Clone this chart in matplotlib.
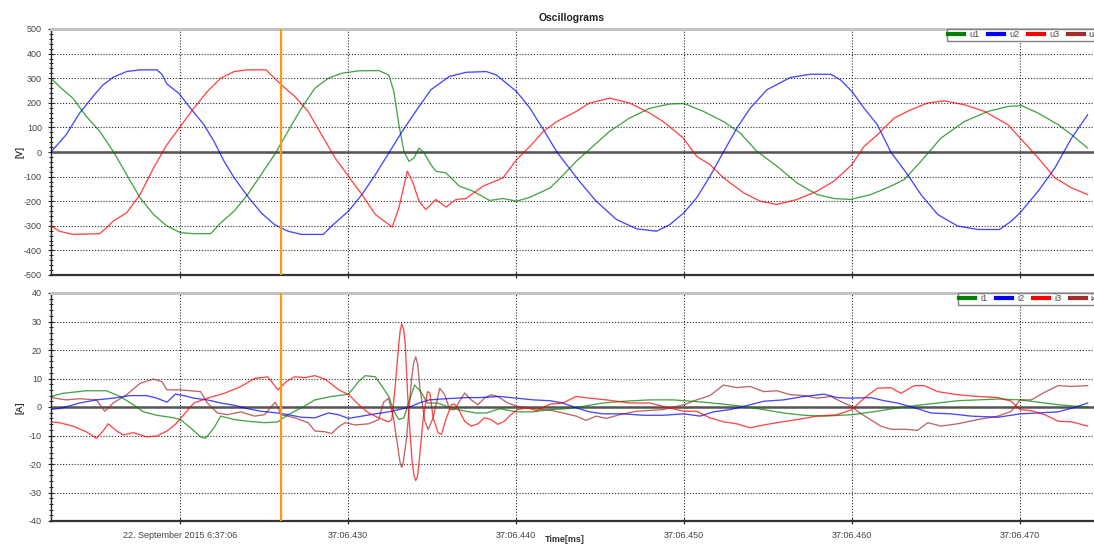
import matplotlib
matplotlib.use("Agg")
import matplotlib.pyplot as plt
from matplotlib.ticker import MultipleLocator
from matplotlib.lines import Line2D

plt.rcParams['font.family'] = ['Liberation Sans', 'DejaVu Sans']
plt.rcParams['axes.unicode_minus'] = False

# ---------------- data (time in ms after 6:37:06.000) ----------------
u1_t = [412.34, 412.84, 413.64, 414.44, 415.24, 416.04, 416.84, 417.64, 418.44, 419.24,
        420.04, 420.84, 421.84, 422.44, 423.24, 424.04, 424.84, 425.64, 426.44, 427.24,
        428.04, 428.84, 429.64, 430.64, 431.84, 432.44, 432.74, 433.04, 433.34, 433.64,
        433.94, 434.24, 434.54, 434.94, 435.24, 435.84, 436.64, 437.44, 438.44, 439.24,
        440.04, 440.84, 442.04, 442.84, 443.59, 444.58, 445.58, 446.77, 447.97, 449.16,
        450.00, 451.16, 452.35, 453.35, 454.34, 455.54, 456.73, 457.93, 458.92, 459.92,
        461.12, 462.31, 463.11, 464.10, 465.30, 466.69, 468.09, 469.28, 470.08, 471.08,
        472.27, 473.07, 474.02]
u1_v = [300, 266, 219, 145, 84, 3, -92, -186, -254, -301,
        -328, -332, -332, -288, -240, -173, -92, -11, 84, 178,
        259, 300, 320, 330, 331, 313, 246, 111, 3, -38,
        -24, 16, -4, -51, -78, -85, -139, -159, -197, -189,
        -200, -184, -146, -92, -38, 23, 84, 138, 178, 195,
        197, 165, 124, 77, 3, -58, -126, -173, -189, -193,
        -173, -139, -112, -38, 57, 124, 165, 185, 189, 158,
        111, 70, 16]

u2_t = [412.34, 413.24, 414.04, 414.84, 415.44, 416.04, 416.84, 417.64, 418.64, 418.94,
        419.24, 419.94, 420.64, 421.44, 422.04, 422.64, 423.24, 424.04, 424.84, 425.64,
        426.44, 427.24, 428.54, 429.04, 430.04, 430.84, 431.64, 432.44, 433.24, 434.04,
        434.94, 436.04, 437.04, 438.24, 438.84, 440.04, 440.84, 441.64, 442.44, 443.78,
        444.78, 445.98, 447.17, 448.37, 449.16, 450.00, 450.76, 451.55, 452.35, 453.15,
        453.94, 454.94, 456.33, 457.53, 458.73, 459.32, 460.00, 460.72, 461.51, 462.31,
        463.31, 464.10, 465.10, 466.29, 467.49, 468.78, 469.48, 470.00, 471.08, 472.07,
        473.07, 474.02]
u2_v = [0, 70, 158, 226, 273, 304, 327, 334, 334, 316,
        276, 239, 178, 111, 43, -38, -105, -180, -247, -295,
        -322, -335, -335, -301, -240, -173, -92, -4, 84, 165,
        253, 307, 324, 327, 313, 246, 178, 91, 0, -119,
        -200, -274, -312, -322, -295, -247, -186, -99, 0, 97,
        178, 253, 303, 316, 316, 293, 246, 178, 111, 0,
        -92, -173, -254, -301, -315, -315, -281, -247, -159, -65,
        57, 151]

u3_t = [412.34, 412.84, 413.64, 415.24, 415.64, 416.04, 416.84, 417.64, 418.44, 419.24,
        420.04, 420.84, 421.64, 422.44, 423.24, 424.04, 425.14, 425.44, 426.04, 426.84,
        427.64, 428.44, 429.24, 430.04, 430.84, 431.64, 432.64, 433.04, 433.54, 433.84,
        434.24, 434.64, 435.24, 435.84, 436.44, 437.04, 438.04, 439.24, 440.04, 440.84,
        441.64, 442.44, 443.59, 444.38, 445.58, 446.77, 447.97, 448.76, 449.96, 450.76,
        451.55, 452.35, 453.55, 454.54, 455.54, 456.73, 457.93, 458.92, 460.00, 460.72,
        461.51, 462.51, 463.51, 464.50, 465.50, 466.69, 467.89, 469.28, 470.00, 471.08,
        472.07, 473.07, 474.02]
u3_v = [-301, -322, -335, -332, -308, -281, -247, -173, -65, 30,
        104, 178, 246, 300, 327, 334, 334, 313, 273, 226,
        165, 70, -24, -99, -173, -254, -305, -227, -78, -119,
        -200, -234, -193, -224, -193, -189, -139, -105, -31, 23,
        84, 124, 165, 199, 219, 199, 158, 124, 57, -18,
        -51, -105, -166, -200, -213, -193, -159, -119, -51, 23,
        70, 138, 172, 199, 208, 192, 165, 111, 57, -24,
        -105, -146, -173]

u4_t = [412.34, 474.02]
u4_v = [0, 0]

i1_t = [412.34, 413.04, 414.44, 415.64, 416.44, 417.24, 417.84, 418.64, 419.64, 420.04,
        420.64, 421.24, 421.54, 422.04, 422.44, 423.24, 424.04, 425.04, 425.84, 426.44,
        427.24, 428.04, 429.04, 430.04, 430.64, 431.04, 431.64, 432.04, 432.44, 432.74,
        433.04, 433.34, 433.64, 433.98, 434.34, 434.74, 435.34, 436.04, 436.84, 437.64,
        438.24, 439.04, 440.04, 441.04, 442.04, 443.00, 443.98, 445.18, 446.37, 447.97,
        449.36, 451.16, 452.35, 453.55, 454.74, 455.94, 457.13, 458.33, 460.00, 461.71,
        462.71, 463.90, 465.10, 466.29, 467.49, 468.69, 470.00, 471.08, 472.27, 474.02]
i1_v = [3.7, 4.8, 5.7, 5.7, 3.7, 0.8, -1.7, -2.9, -3.8, -4.4,
        -7.3, -10.5, -11.0, -7.3, -3.2, -4.4, -5.0, -5.5, -5.2, -2.7,
        -0.3, 2.5, 3.7, 4.5, 8.9, 11.0, 10.6, 7.2, 3.7, -1.5,
        -4.4, -3.8, 2.0, 7.7, 5.4, 1.4, 1.4, -0.1, -1.3, -2.1,
        -2.1, -0.6, -1.7, -1.7, -0.9, -0.6, 0.2, 1.4, 2.0, 2.5,
        2.5, 1.7, 1.0, 0.2, -0.9, -2.1, -2.9, -3.2, -2.7, -1.3,
        -0.3, 0.6, 1.4, 2.2, 2.5, 2.8, 2.5, 1.7, 0.8, -0.1]

i2_t = [412.34, 413.04, 414.04, 415.04, 416.04, 417.04, 418.04, 418.64, 419.24, 419.74,
        420.24, 420.84, 421.64, 422.44, 423.24, 424.04, 424.84, 425.84, 426.44, 427.24,
        428.04, 428.84, 429.44, 430.04, 430.84, 431.64, 432.44, 433.04, 433.64, 434.24,
        434.84, 435.84, 437.04, 437.84, 439.04, 440.04, 441.04, 442.04, 442.79, 443.59,
        444.38, 445.18, 446.37, 447.57, 448.76, 450.00, 450.96, 451.75, 452.75, 453.55,
        454.74, 455.94, 457.13, 458.33, 459.12, 460.00, 461.12, 461.91, 462.71, 463.90,
        464.70, 465.90, 467.09, 468.69, 470.00, 471.08, 472.27, 473.27, 474.02]
i2_v = [-0.9, -0.3, 1.4, 2.5, 3.1, 4.0, 4.0, 3.1, 1.7, 4.5,
        4.0, 3.1, 2.5, 1.4, 0.6, -0.6, -1.5, -2.1, -2.7, -3.6,
        -3.8, -2.1, -2.7, -4.0, -3.2, -2.4, -1.7, -0.9, -0.1, 1.4,
        2.5, 2.9, 3.3, 3.3, 3.7, 3.1, 2.5, 2.2, 1.4, -0.3,
        -1.7, -2.4, -2.4, -2.9, -2.9, -2.4, -3.2, -1.7, -0.9, 0.2,
        2.0, 2.5, 3.7, 4.5, 3.3, 3.1, 3.3, 2.2, 1.4, -0.6,
        -2.1, -2.4, -3.2, -3.6, -2.4, -2.1, -1.7, -0.1, 1.4]

i3_t = [412.34, 412.84, 413.64, 414.44, 415.04, 415.44, 415.74, 416.24, 416.64, 417.24,
        418.04, 418.64, 419.24, 419.74, 420.24, 420.84, 421.64, 422.64, 423.64, 424.44,
        425.24, 425.84, 426.34, 426.84, 427.44, 428.04, 428.64, 429.47, 430.06, 430.65,
        431.24, 431.83, 432.42, 432.62, 432.81, 433.01, 433.11, 433.21, 433.31, 433.41,
        433.60, 433.84, 433.94, 434.04, 434.14, 434.23, 434.49, 434.74, 434.88, 435.08,
        435.37, 435.57, 435.87, 436.16, 436.36, 436.65, 436.95, 437.34, 437.74, 438.13,
        438.52, 438.92, 439.31, 439.70, 440.10, 440.69, 441.24, 442.04, 442.79, 443.59,
        444.38, 445.38, 446.77, 447.97, 448.76, 450.00, 450.76, 451.55, 452.35, 453.15,
        453.94, 454.74, 455.54, 456.73, 457.93, 459.12, 460.00, 460.72, 461.51, 462.31,
        462.91, 463.71, 464.30, 465.10, 466.29, 467.49, 468.69, 469.48, 470.00, 470.68,
        471.47, 472.27, 473.07, 474.02]
i3_v = [-5.2, -5.5, -6.7, -8.7, -11.0, -8.4, -5.9, -8.4, -9.8, -9.0,
        -10.5, -10.2, -8.4, -6.1, -2.7, 1.4, 3.1, 4.8, 7.2, 10.0,
        10.6, 6.0, 8.9, 10.6, 10.3, 11.0, 9.8, 6.0, 4.3, 0.8,
        -2.1, -3.8, -5.2, -4.4, 6.6, 20.5, 26.5, 29.2, 27.5, 22.8,
        -0.3, -20.0, -24.0, -25.8, -24.5, -20.0, -3.8, 5.4, 4.9, -3.8,
        -9.0, -9.6, -3.8, 0.8, 1.0, -1.5, -5.0, -6.7, -5.9, -3.8,
        -4.4, -6.1, -5.0, -2.7, -0.9, -0.3, -1.3, 1.0, 1.4, 3.7,
        3.1, 2.5, 1.4, 1.4, 0.2, -1.5, -1.5, -3.8, -5.2, -5.9,
        -7.3, -6.3, -5.5, -4.4, -3.2, -2.7, -0.9, 3.1, 6.6, 6.8,
        4.8, 7.5, 7.5, 5.4, 4.3, 3.7, 3.3, 2.0, -0.9, -1.3,
        -2.7, -5.0, -5.2, -6.7]

i4_t = [412.34, 413.24, 414.04, 415.04, 415.54, 416.04, 416.84, 417.64, 418.44, 418.94,
        419.24, 420.04, 420.64, 421.24, 421.64, 422.24, 422.84, 423.64, 424.44, 425.04,
        425.68, 426.04, 426.84, 427.64, 428.04, 428.64, 429.04, 429.44, 429.84, 430.44,
        431.24, 431.84, 432.13, 432.42, 432.72, 433.01, 433.11, 433.21, 433.31, 433.50,
        433.80, 433.92, 434.04, 434.16, 434.29, 434.59, 434.78, 435.08, 435.47, 435.77,
        436.06, 436.36, 436.65, 436.95, 437.34, 437.74, 438.13, 438.52, 438.92, 439.51,
        440.10, 440.69, 441.60, 442.20, 442.79, 443.59, 444.18, 444.78, 445.38, 446.18,
        447.17, 448.76, 450.00, 450.76, 451.55, 452.35, 453.15, 453.94, 454.74, 455.54,
        456.33, 457.13, 457.93, 458.73, 459.52, 460.00, 460.32, 460.92, 461.71, 462.31,
        463.11, 463.90, 464.50, 465.30, 466.29, 467.49, 468.69, 469.48, 470.00, 470.68,
        471.47, 472.27, 473.07, 474.02]
i4_v = [3.3, 2.5, 2.9, 2.5, -1.5, 1.4, 4.3, 8.3, 9.8, 8.9,
        6.0, 6.0, 5.7, 5.4, 1.4, -2.1, -2.7, -1.7, -3.2, -2.7,
        1.7, -2.7, -3.8, -5.5, -8.4, -8.7, -9.3, -7.0, -5.5, -6.3,
        -5.9, -4.4, 1.7, 3.1, -3.8, -15.4, -19.5, -21.2, -19.0, -10.8,
        10.1, 15.5, 17.6, 15.0, 6.6, -5.0, -7.9, -3.8, 6.6, 4.3,
        -0.9, -0.9, 2.0, 4.9, 2.5, 0.8, 3.1, 4.3, 3.7, 1.4,
        0.2, -0.3, -0.9, -1.3, -2.1, -3.2, -4.7, -3.2, -4.0, -2.7,
        -1.5, -0.9, 0.8, 2.5, 4.0, 7.7, 6.8, 7.2, 5.4, 5.7,
        4.3, 4.0, 3.1, 3.7, 1.4, 0.2, -1.5, -3.8, -6.7, -7.8,
        -7.8, -8.2, -5.5, -6.7, -5.9, -4.4, -3.2, -1.5, 2.5, 2.5,
        5.2, 7.5, 7.2, 7.5]

cursor_t = 426.0
x_ticks = [420, 430, 440, 450, 460, 470]
x_labels = ["22. September 2015 6:37:06", "37:06.430", "37:06.440",
            "37:06.450", "37:06.460", "37:06.470"]
u_names = ["u1", "u2", "u3", "u4"]
i_names = ["i1", "i2", "i3", "i4"]
colors = ["#008000", "#0000ff", "#ff0000", "#a52a2a"]

# ---------------- figure ----------------
W, H = 1094, 544
fig = plt.figure(figsize=(W / 100, H / 100), dpi=100)
L = 51 / W
ax1 = fig.add_axes([L, 1 - 275 / H, 1 - L, (275 - 29) / H])
ax2 = fig.add_axes([L, 1 - 521 / H, 1 - L, (521 - 293) / H])

for ax, ts, vs, ylim, maj, mnr in [
        (ax1, [u1_t, u2_t, u3_t, u4_t], [u1_v, u2_v, u3_v, u4_v], (-500, 500), 100, 20),
        (ax2, [i1_t, i2_t, i3_t, i4_t], [i1_v, i2_v, i3_v, i4_v], (-40, 40), 10, 2)]:
    ax.set_xlim(412.34, 474.4)
    ax.set_ylim(*ylim)
    for k in [3, 0, 1, 2]:
        z = 1.5 if ax is ax1 and k == 3 else 3
        ax.plot(ts[k], vs[k], color=colors[k], lw=0.95, alpha=0.72, zorder=z)
    ax.axhline(0, color='#555555', lw=1.8, zorder=2)
    ax.axvline(cursor_t, color='#ff9a10', lw=1.6, zorder=4)
    ax.yaxis.set_major_locator(MultipleLocator(maj))
    ax.yaxis.set_minor_locator(MultipleLocator(mnr))
    ax.set_xticks(x_ticks)
    ax.grid(True, which='major', color='#2a2a2a', linestyle=(0, (1, 1.6)), linewidth=0.8, zorder=1)
    ax.set_axisbelow(True)
    ax.spines['right'].set_visible(False)
    ax.spines['top'].set_color('#c4c4c4')
    ax.spines['top'].set_linewidth(2.2)
    ax.spines['left'].set_color('#222222')
    ax.spines['left'].set_linewidth(1.0)
    ax.spines['bottom'].set_color('#333333')
    ax.spines['bottom'].set_linewidth(1.6)
    ax.tick_params(axis='y', which='major', direction='inout', length=5, width=0.8,
                   labelsize=6.5, labelcolor='#444444', color='#222222', pad=4)
    ax.tick_params(axis='y', which='minor', direction='inout', length=3, width=0.7, color='#222222')
    ax.tick_params(axis='x', which='major', direction='inout', length=5, width=0.8,
                   labelsize=6.5, labelcolor='#444444', color='#222222', pad=5)

ax1.tick_params(axis='x', labelbottom=False)
ax2.set_xticklabels(x_labels)

# legends (partly cut by the right figure edge, as in the reference)
for ax, names, x0, y0 in [(ax1, u_names, 947, 29), (ax2, i_names, 958, 293)]:
    handles = [Line2D([], [], color=c, lw=3) for c in colors]
    leg = ax.legend(handles, names, loc='upper left', ncol=4,
                    bbox_to_anchor=(x0 / W, 1 - y0 / H), bbox_transform=fig.transFigure,
                    fontsize=6.5, handlelength=1.75, handletextpad=0.55, columnspacing=1.0,
                    borderpad=0.15, borderaxespad=0, frameon=True, fancybox=False,
                    edgecolor='#808080', framealpha=1)
    for txt in leg.get_texts():
        txt.set_color('#444444')
    leg.set_zorder(10)

fig.text(572 / W, 1 - 18 / H, 'Oscillograms', ha='center', va='center',
         fontsize=7.5, fontweight='bold', color='#222222')
fig.text(20 / W, 1 - 152 / H, '[V]', rotation=90, ha='center', va='center',
         fontsize=6.5, fontweight='bold', color='#333333')
fig.text(20 / W, 1 - 408 / H, '[A]', rotation=90, ha='center', va='center',
         fontsize=6.5, fontweight='bold', color='#333333')
fig.text(565 / W, 1 - 540 / H, 'Time[ms]', ha='center', va='center',
         fontsize=6.5, fontweight='bold', color='#333333')

fig.savefig('out.png', dpi=100)
